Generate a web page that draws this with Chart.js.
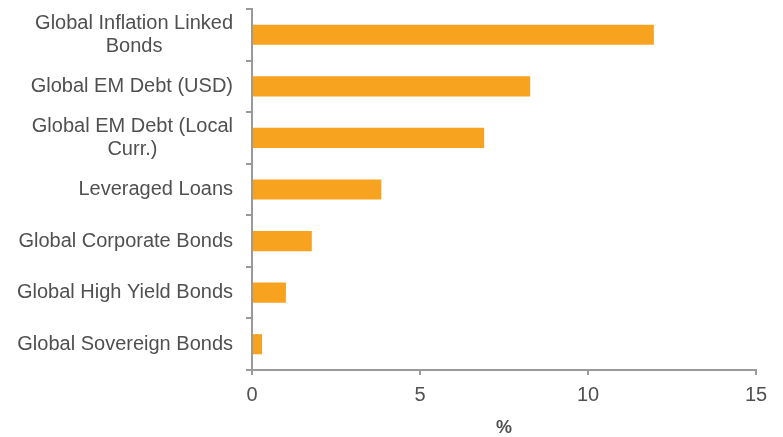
<!DOCTYPE html>
<html>
<head>
<meta charset="utf-8">
<script src="https://cdn.jsdelivr.net/npm/chart.js@4"></script>
<style>
  html, body { margin: 0; padding: 0; background: #fff; }
  #wrap { width: 783px; height: 437px; }
</style>
</head>
<body>
<div id="wrap"><canvas id="returnsChart"></canvas></div>
<script>
// 카테고리 (여러 줄 라벨은 배열로)
const categories = [
    ['Global Inflation Linked', 'Bonds'],
    ['Global EM Debt (USD)'],
    ['Global EM Debt (Local', 'Curr.)'],
    ['Leveraged Loans'],
    ['Global Corporate Bonds'],
    ['Global High Yield Bonds'],
    ['Global Sovereign Bonds']
];
const values = [11.96, 8.28, 6.91, 3.85, 1.78, 1.01, 0.30];
const xTicks = [0, 5, 10, 15];

const FONT = '"Liberation Sans", Arial, sans-serif';
const TEXT = '#505050';
const AXIS = '#9a9a9a';

// y축 라벨: 여러 줄은 가운데 정렬, 블록은 오른쪽 정렬
const categoryLabels = {
    id: 'categoryLabels',
    afterDraw(chart) {
        const { ctx, scales: { y } } = chart;
        const right = chart.chartArea.left - 19;
        ctx.save();
        ctx.font = '20px ' + FONT;
        ctx.fillStyle = TEXT;
        ctx.textBaseline = 'middle';
        ctx.textAlign = 'center';
        categories.forEach((lines, i) => {
            const yc = y.getPixelForValue(i);
            const widest = Math.max(...lines.map(l => ctx.measureText(l).width));
            lines.forEach((line, j) => {
                const ly = yc + (j - (lines.length - 1) / 2) * 23;
                ctx.fillText(line, right - widest / 2, ly);
            });
        });
        ctx.restore();
    }
};

const ctx = document.getElementById('returnsChart').getContext('2d');
const returnsChart = new Chart(ctx, {
    type: 'bar',
    data: {
        labels: categories.map(c => c.join(' ')),
        datasets: [{
            data: values,
            backgroundColor: '#F8A31F',
            borderWidth: 0,
            barPercentage: 0.39,
            categoryPercentage: 1
        }]
    },
    options: {
        indexAxis: 'y',
        responsive: true,
        maintainAspectRatio: false,
        animation: false,
        layout: { padding: { left: 246, right: 27, top: 9, bottom: 0 } },
        plugins: {
            legend: { display: false },
            tooltip: { enabled: false }
        },
        scales: {
            x: {
                min: 0,
                max: 15,
                afterBuildTicks: axis => { axis.ticks = xTicks.map(v => ({ value: v })); },
                grid: { drawOnChartArea: false, tickLength: 5, color: AXIS, lineWidth: 2 },
                border: { color: AXIS, width: 2 },
                ticks: { color: TEXT, font: { family: FONT, size: 20 }, padding: 8 },
                title: {
                    display: true,
                    text: '%',
                    color: TEXT,
                    font: { family: FONT, size: 18, weight: 'bold', lineHeight: 1 },
                    padding: { top: 4, bottom: 0 }
                }
            },
            y: {
                grid: { drawOnChartArea: false, tickLength: 6, color: AXIS, lineWidth: 2 },
                border: { color: AXIS, width: 2 },
                ticks: { display: false }
            }
        }
    },
    plugins: [categoryLabels]
});
</script>
</body>
</html>
